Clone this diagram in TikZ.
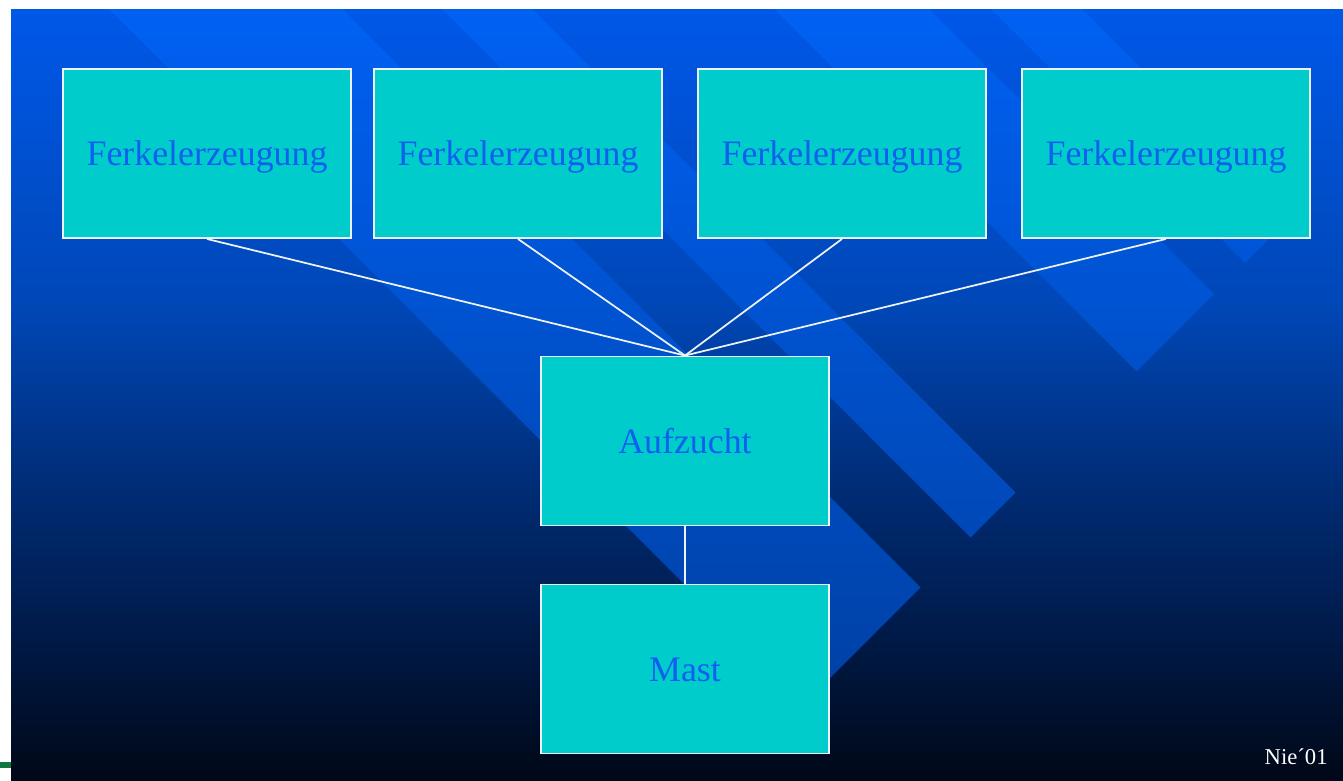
\documentclass[tikz,border=0pt]{standalone}
\usepackage{fontspec}
\setmainfont{Liberation Serif}
\definecolor{boxfill}{RGB}{0,204,204}
\definecolor{boxtext}{RGB}{16,96,240}
\definecolor{rimwhite}{RGB}{236,242,246}
\definecolor{slidegreen}{RGB}{16,120,60}
\definecolor{bandtop}{rgb}{0,0.40,1.0}
\definecolor{bandbottom}{rgb}{0,0.25,0.64}
\pgfdeclareverticalshading{slidebg}{100bp}{rgb(0bp)=(0,0.03,0.09); rgb(25bp)=(0,0.03,0.09); rgb(37bp)=(0,0.12,0.33); rgb(43bp)=(0,0.165,0.44); rgb(56bp)=(0,0.28,0.72); rgb(75bp)=(0,0.345,0.91); rgb(100bp)=(0,0.345,0.91)}
\begin{document}
\begin{tikzpicture}[x=0.02cm, y=-0.02cm, main node/.style={rectangle,draw=rimwhite,line width=1.1pt,fill=boxfill,text=boxtext,minimum width=5.76cm,minimum height=3.38cm,inner sep=0pt,text height=14.2pt,text depth=0pt}, link/.style={draw=rimwhite,line width=1pt}]
\useasboundingbox (0,0) rectangle (1343,781);
\fill[white] (0,0) rectangle (1343,781);
\shade[shading=slidebg] (11,9) rectangle (1343,781);
\begin{scope}
\clip (11,9) rectangle (1343,781);
\shade[top color=bandtop, bottom color=bandbottom]
  (0,-100) -- (233,-100) -- (920.5,587.5) -- (804,704) -- cycle
  (333,-100) -- (423,-100) -- (1015.5,492.5) -- (970.5,537.5) -- cycle
  (665,-100) -- (820,-100) -- (1214,294) -- (1136.5,371.5) -- cycle
  (882,-100) -- (973,-100) -- (1290.5,217.5) -- (1245,263) -- cycle;
\end{scope}
\fill[slidegreen] (0,762) rectangle (11,768);
\begin{scope}[every node/.style={font=\fontsize{20.4}{24}\selectfont}]
\node[main node] (f1) at (207,153.5) {Ferkelerzeugung};
\node[main node] (f2) at (518,153.5) {Ferkelerzeugung};
\node[main node] (f3) at (842,153.5) {Ferkelerzeugung};
\node[main node] (f4) at (1166,153.5) {Ferkelerzeugung};
\node[main node] (auf) at (685,441) {Aufzucht};
\node[main node] (mast) at (685,669) {Mast};
\end{scope}
\node[font=\fontsize{12.9}{15}\selectfont, text=white, inner sep=0pt, anchor=base east] (sig) at (1328,764) {Nie´01};
\begin{scope}
\draw[link] (f1.south) edge (auf.north);
\draw[link] (f2.south) edge (auf.north);
\draw[link] (f3.south) edge (auf.north);
\draw[link] (f4.south) edge (auf.north);
\draw[link] (auf.south) edge (mast.north);
\end{scope}
\end{tikzpicture}
\end{document}
